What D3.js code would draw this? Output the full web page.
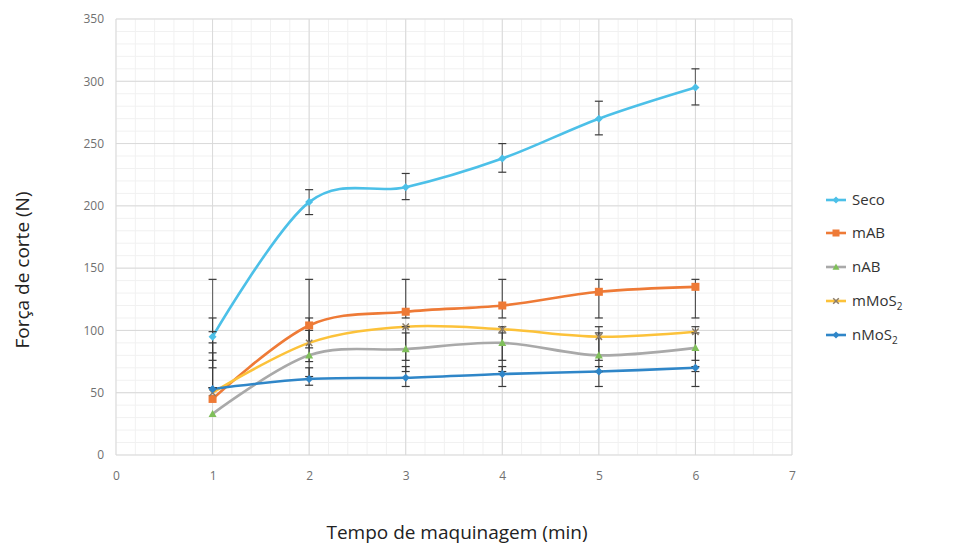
<!DOCTYPE html>
<html>
<head>
<meta charset="utf-8">
<script src="https://cdn.jsdelivr.net/npm/d3@7"></script>
<style>
  html, body { margin: 0; padding: 0; background: #fff; }
  svg { display: block; font-family: "Open Sans", "Liberation Sans", sans-serif; }
</style>
</head>
<body>
<svg id="chart" width="953" height="548"></svg>
<script>
// Cutting force over machining time, one series per lubrication condition
const times = [1, 2, 3, 4, 5, 6];
const seco   = [95, 203, 215, 238, 270, 295];
const mAB    = [45, 104, 115, 120, 131, 135];
const nAB    = [33, 80, 85, 90, 80, 86];
const mMoS2  = [50, 90, 103, 101, 95, 99];
const nMoS2  = [53, 61, 62, 65, 67, 70];

// Error bar limits (lower, upper) for each point
const secoLo  = [54, 193, 205, 227, 257, 281];
const secoHi  = [141, 213, 226, 250, 284, 310];
const mABLo   = [54, 86, 110, 110, 110, 110];
const mABHi   = [90, 141, 141, 141, 141, 141];
const nABLo   = [54, 63, 67, 67, 67, 67];
const nABHi   = [82, 100, 98, 98, 98, 98];
const mMoS2Lo = [76, 75, 76, 76, 76, 76];
const mMoS2Hi = [110, 110, 103, 103, 103, 103];
const nMoS2Lo = [70, 56, 55, 55, 55, 55];
const nMoS2Hi = [99, 70, 71, 71, 71, 71];

const seriesNames = ["Seco", "mAB", "nAB", "mMoS2", "nMoS2"];
const seriesValues = [seco, mAB, nAB, mMoS2, nMoS2];
const seriesLo = [secoLo, mABLo, nABLo, mMoS2Lo, nMoS2Lo];
const seriesHi = [secoHi, mABHi, nABHi, mMoS2Hi, nMoS2Hi];
const seriesColors = ["#4cc0e8", "#ee7a36", "#a9a9a9", "#fcc23a", "#2f86c8"];
const markerColors = ["#4cc0e8", "#ee7a36", "#7fbf5a", "#8c7d6a", "#2f86c8"];
const markerShapes = ["diamond", "square", "triangle", "x", "diamond"];

const xTicks = [0, 1, 2, 3, 4, 5, 6, 7];
const yTicks = [0, 50, 100, 150, 200, 250, 300, 350];

const svg = d3.select("#chart");
const plot = { left: 116, right: 792, top: 19, bottom: 455 };

const x = d3.scaleLinear().domain([0, 7]).range([plot.left, plot.right]);
const y = d3.scaleLinear().domain([0, 350]).range([plot.bottom, plot.top]);

// Minor gridlines
const g = svg.append("g");
g.selectAll(".minx").data(d3.range(0, 7.001, 0.2))
  .join("line")
  .attr("x1", d => x(d)).attr("x2", d => x(d))
  .attr("y1", plot.top).attr("y2", plot.bottom)
  .attr("stroke", "#f1f1f1").attr("stroke-width", 1);
g.selectAll(".miny").data(d3.range(0, 350.001, 10))
  .join("line")
  .attr("x1", plot.left).attr("x2", plot.right)
  .attr("y1", d => y(d)).attr("y2", d => y(d))
  .attr("stroke", "#f1f1f1").attr("stroke-width", 1);

// Major gridlines
g.selectAll(".majx").data(xTicks)
  .join("line")
  .attr("x1", d => x(d)).attr("x2", d => x(d))
  .attr("y1", plot.top).attr("y2", plot.bottom)
  .attr("stroke", "#d9d9d9").attr("stroke-width", 1);
g.selectAll(".majy").data(yTicks)
  .join("line")
  .attr("x1", plot.left).attr("x2", plot.right)
  .attr("y1", d => y(d)).attr("y2", d => y(d))
  .attr("stroke", "#d9d9d9").attr("stroke-width", 1);

// Axes (labels only)
const xAxis = d3.axisBottom(x).tickValues(xTicks).tickFormat(d3.format("d")).tickSize(0).tickPadding(16);
const yAxis = d3.axisLeft(y).tickValues(yTicks).tickFormat(d3.format("d")).tickSize(0).tickPadding(10);
const gx = svg.append("g").attr("transform", `translate(0,${plot.bottom})`).call(xAxis);
const gy = svg.append("g").attr("transform", `translate(${plot.left - 2},0)`).call(yAxis);
[gx, gy].forEach(a => {
  a.select(".domain").remove();
  a.selectAll("text").attr("fill", "#707070").style("font-size", "12px")
    .style("font-family", "'Open Sans', 'Liberation Sans', sans-serif");
});

// Smoothed series lines
const line = d3.line()
  .x((d, i) => x(times[i]))
  .y(d => y(d))
  .curve(d3.curveCatmullRom.alpha(0));

seriesValues.forEach((vals, s) => {
  svg.append("path")
    .datum(vals)
    .attr("d", line)
    .attr("fill", "none")
    .attr("stroke", seriesColors[s])
    .attr("stroke-width", 2.6)
    .attr("stroke-linecap", "round");
});

// Error bars
const errG = svg.append("g").attr("stroke", "#3a3a3a").attr("stroke-width", 1.2);
seriesValues.forEach((vals, s) => {
  times.forEach((t, i) => {
    const cx = x(t);
    const lo = y(seriesLo[s][i]);
    const hi = y(seriesHi[s][i]);
    errG.append("line").attr("x1", cx).attr("x2", cx).attr("y1", lo).attr("y2", hi)
      .attr("stroke", s === 0 ? "#555" : "#3a3a3a").attr("stroke-opacity", 0.85);
    [lo, hi].forEach(yy => {
      errG.append("line").attr("x1", cx - 4).attr("x2", cx + 4).attr("y1", yy).attr("y2", yy);
    });
  });
});

// Markers
function drawMarker(sel, shape, cx, cy, color, size) {
  if (shape === "diamond") {
    sel.append("path")
      .attr("d", `M${cx},${cy - size}L${cx + size},${cy}L${cx},${cy + size}L${cx - size},${cy}Z`)
      .attr("fill", color);
  } else if (shape === "square") {
    sel.append("rect").attr("x", cx - size).attr("y", cy - size)
      .attr("width", size * 2).attr("height", size * 2).attr("fill", color);
  } else if (shape === "triangle") {
    sel.append("path")
      .attr("d", `M${cx},${cy - size}L${cx + size},${cy + size * 0.8}L${cx - size},${cy + size * 0.8}Z`)
      .attr("fill", color);
  } else if (shape === "x") {
    sel.append("path")
      .attr("d", `M${cx - size * 0.8},${cy - size * 0.8}L${cx + size * 0.8},${cy + size * 0.8}M${cx - size * 0.8},${cy + size * 0.8}L${cx + size * 0.8},${cy - size * 0.8}`)
      .attr("stroke", color).attr("stroke-width", 1.5).attr("fill", "none");
  }
}
const mg = svg.append("g");
seriesValues.forEach((vals, s) => {
  vals.forEach((v, i) => {
    drawMarker(mg, markerShapes[s], x(times[i]), y(v), markerColors[s], 4);
  });
});

// Legend
const legendY = [200, 233, 267, 301, 335];
const lg = svg.append("g");
seriesNames.forEach((name, s) => {
  const yy = legendY[s];
  lg.append("line").attr("x1", 826).attr("x2", 846).attr("y1", yy).attr("y2", yy)
    .attr("stroke", seriesColors[s]).attr("stroke-width", 2.6);
  drawMarker(lg, markerShapes[s], 836, yy, markerColors[s], 3.5);
  const t = lg.append("text").attr("x", 852).attr("y", yy).attr("dy", "0.35em")
    .attr("fill", "#333").style("font-size", "15px");
  if (name.endsWith("2")) {
    t.append("tspan").text(name.slice(0, -1));
    t.append("tspan").text("2").style("font-size", "10px").attr("dy", "4");
  } else {
    t.text(name);
  }
});

// Axis titles
svg.append("text")
  .attr("transform", "translate(22,270) rotate(-90)")
  .attr("text-anchor", "middle")
  .attr("dy", "0.35em")
  .attr("fill", "#222")
  .style("font-size", "19px")
  .text("Força de corte (N)");

svg.append("text")
  .attr("x", 457).attr("y", 532)
  .attr("text-anchor", "middle")
  .attr("dy", "0.35em")
  .attr("fill", "#222")
  .style("font-size", "19px")
  .text("Tempo de maquinagem (min)");
</script>
</body>
</html>
